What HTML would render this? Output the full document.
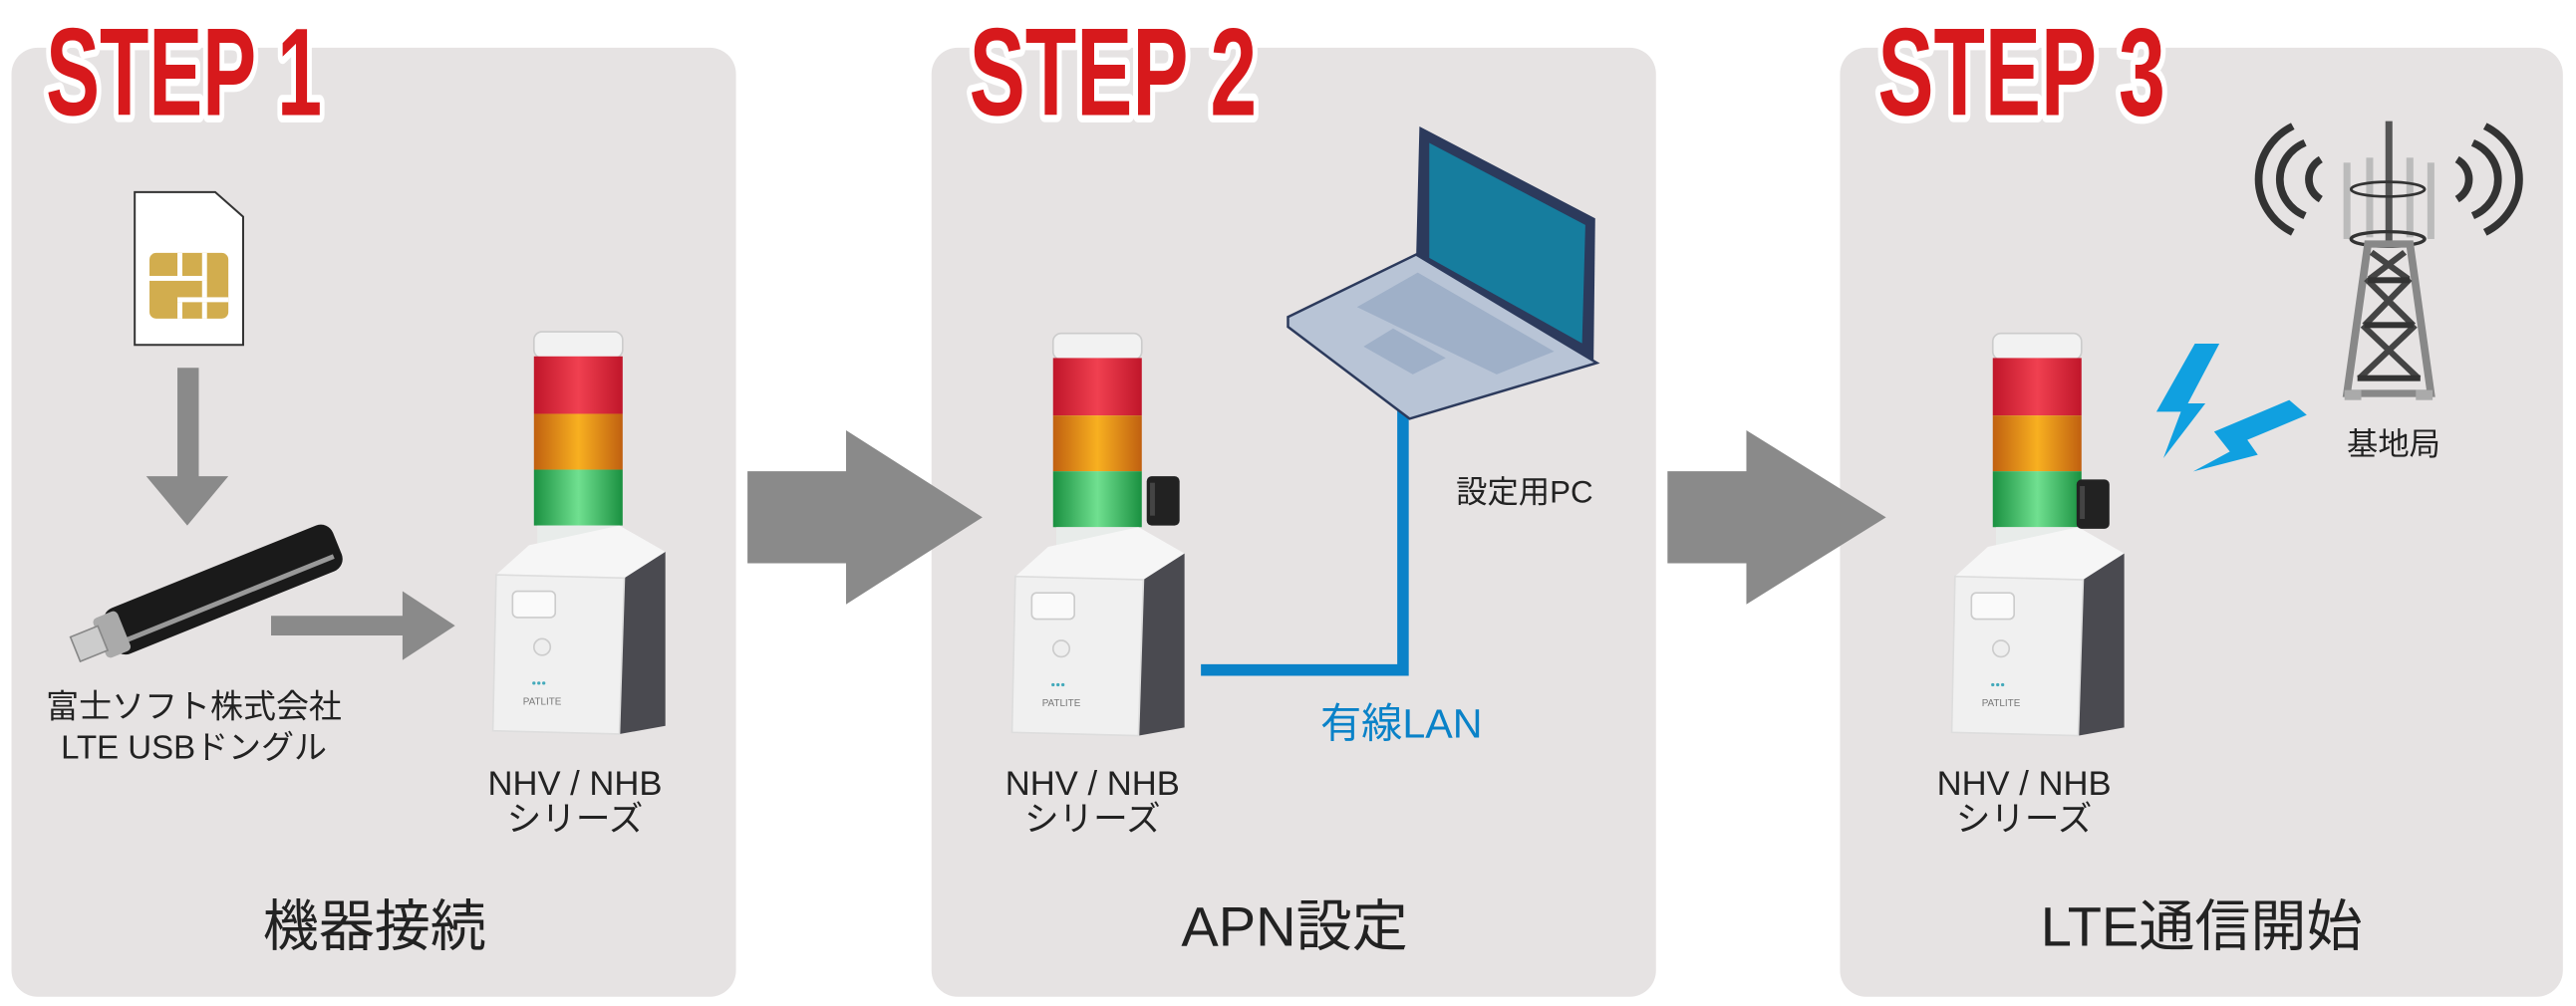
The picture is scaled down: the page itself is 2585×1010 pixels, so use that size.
<!DOCTYPE html>
<html><head><meta charset="utf-8"><style>
html,body{margin:0;padding:0;background:#fff;}
svg{display:block}
text{font-family:"Liberation Sans","Noto Sans CJK JP",sans-serif;}
.st{font-family:"Liberation Sans Narrow","Liberation Sans",sans-serif;font-weight:bold;fill:#d7191c;stroke:#fff;stroke-width:9;paint-order:stroke;stroke-linejoin:round}
</style></head><body>
<svg width="2585" height="1010" viewBox="0 0 1568 612.6" preserveAspectRatio="none" xmlns="http://www.w3.org/2000/svg">
<defs>
<linearGradient id="gr" x1="0" x2="1"><stop offset="0" stop-color="#c0162a"/><stop offset=".5" stop-color="#f04050"/><stop offset="1" stop-color="#c0162a"/></linearGradient>
<linearGradient id="go" x1="0" x2="1"><stop offset="0" stop-color="#c06010"/><stop offset=".5" stop-color="#f8b020"/><stop offset="1" stop-color="#c06010"/></linearGradient>
<linearGradient id="gg" x1="0" x2="1"><stop offset="0" stop-color="#1a9040"/><stop offset=".5" stop-color="#70e090"/><stop offset="1" stop-color="#1a9040"/></linearGradient>
<g id="tower">
  <rect x="-27" y="0" width="54" height="16" rx="5" fill="#f2f2f2" stroke="#ccc"/>
  <rect x="-27" y="15" width="54" height="35" fill="url(#gr)"/>
  <rect x="-27" y="50" width="54" height="34" fill="url(#go)"/>
  <rect x="-27" y="84" width="54" height="34" fill="url(#gg)"/>
  <rect x="-25" y="118" width="50" height="12" fill="#e8ecea"/>
  <polygon points="25,128 53,134 53,240 25,245" fill="#4a4a50"/>
  <path d="M-30,130 L25,118 L53,134 L28,150 L-50,148 Z" fill="#f6f6f6"/>
  <path d="M-50,148 L28,150 L25,245 L-52,243 Z" fill="#f0f0f0" stroke="#ddd"/>
  <rect x="-40" y="158" width="26" height="16" rx="3" fill="#fafafa" stroke="#ccc"/>
  <circle cx="-22" cy="192" r="5" fill="#eee" stroke="#ccc"/>
  <text x="-22" y="227" font-size="6" font-family="Liberation Serif" fill="#777" text-anchor="middle">PATLITE</text>
  <circle cx="-27" cy="214" r="1" fill="#4ab"/><circle cx="-24" cy="214" r="1" fill="#4ab"/><circle cx="-21" cy="214" r="1" fill="#4ab"/>
</g>
<g id="dg"><rect x="0" y="0" width="20" height="30" rx="3" fill="#222"/><rect x="2" y="4" width="3" height="20" fill="#444"/></g>
</defs>
<rect width="1568" height="612.6" fill="#fff"/>
<rect x="7" y="29" width="441" height="578" rx="16" fill="#e6e3e3"/>
<rect x="567" y="29" width="441" height="578" rx="16" fill="#e6e3e3"/>
<rect x="1120" y="29" width="440" height="578" rx="16" fill="#e6e3e3"/>
<text class="st" x="28" y="70" font-size="76" textLength="168" lengthAdjust="spacingAndGlyphs">STEP 1</text>
<text class="st" x="590" y="70" font-size="76" textLength="175" lengthAdjust="spacingAndGlyphs">STEP 2</text>
<text class="st" x="1143" y="70" font-size="76" textLength="175" lengthAdjust="spacingAndGlyphs">STEP 3</text>
<polygon points="455,287 515,287 515,262 598,315 515,368 515,343 455,343" fill="#8a8a8a"/>
<polygon points="1015,287 1063,287 1063,262 1148,315 1063,368 1063,343 1015,343" fill="#8a8a8a"/>
<path d="M82,117 L131,117 L148,132 L148,210 L82,210 Z" fill="#fff" stroke="#333" stroke-width="1.2"/>
<rect x="91" y="154" width="48" height="40" rx="4" fill="#d2ad4e"/>
<g fill="#fff"><rect x="108" y="154" width="3" height="14"/><rect x="123" y="154" width="3" height="14"/><rect x="91" y="168" width="35" height="3"/><rect x="123" y="171" width="3" height="10"/><rect x="108" y="181" width="31" height="3"/><rect x="108" y="184" width="3" height="10"/><rect x="123" y="184" width="3" height="10"/></g>
<polygon points="108,224 121,224 121,290 139,290 114,320 89,290 108,290" fill="#8a8a8a"/>
<g transform="translate(120,360) rotate(-22)">
  <rect x="-60" y="-10" width="150" height="30" rx="8" fill="#1a1a1a"/>
  <rect x="-55" y="10" width="140" height="3" fill="#999"/>
  <rect x="-66" y="-8" width="16" height="26" rx="3" fill="#aaa"/>
  <rect x="-82" y="-3" width="18" height="16" fill="#ccc" stroke="#888"/>
</g>
<polygon points="165,375 245,375 245,360 277,381 245,402 245,387 165,387" fill="#8a8a8a"/>
<text x="118" y="437" font-size="20" fill="#222" text-anchor="middle">富士ソフト株式会社</text>
<text x="118" y="462" font-size="20" fill="#222" text-anchor="middle">LTE USBドングル</text>
<use href="#tower" transform="translate(352,202)"/>
<use href="#tower" transform="translate(668,203)"/>
<use href="#tower" transform="translate(1240,203)"/>
<use href="#dg" transform="translate(698,290)"/>
<use href="#dg" transform="translate(1264,292)"/>
<text x="350" y="484" font-size="21" fill="#222" text-anchor="middle">NHV / NHB</text>
<text x="350" y="506" font-size="21" fill="#222" text-anchor="middle">シリーズ</text>
<text x="665" y="484" font-size="21" fill="#222" text-anchor="middle">NHV / NHB</text>
<text x="665" y="506" font-size="21" fill="#222" text-anchor="middle">シリーズ</text>
<text x="1232" y="484" font-size="21" fill="#222" text-anchor="middle">NHV / NHB</text>
<text x="1232" y="506" font-size="21" fill="#222" text-anchor="middle">シリーズ</text>
<text x="228" y="576" font-size="34" fill="#222" text-anchor="middle">機器接続</text>
<text x="788" y="576" font-size="34" fill="#222" text-anchor="middle">APN設定</text>
<text x="1340" y="576" font-size="34" fill="#222" text-anchor="middle">LTE通信開始</text>
<polyline points="731,408 854,408 854,245" fill="none" stroke="#0a82c8" stroke-width="7"/>
<text x="853" y="449" font-size="25" fill="#0a82c8" text-anchor="middle">有線LAN</text>
<g transform="translate(0,9)">
<polygon points="864,68 971,124 970,212 862,148" fill="#2c3a5c"/>
<polygon points="870,78 965,128 963,200 870,148" fill="#167d9e"/>
<polygon points="784,184 862,146 972,212 858,246 784,190" fill="#b8c4d6" stroke="#2c3a5c" stroke-width="1.5"/>
<polygon points="826,178 863,157 946,205 911,219" fill="#9fb0c8"/>
<polygon points="830,202 848,191 880,209 860,219" fill="#9fb0c8"/>
</g>
<text x="928" y="306" font-size="19" fill="#222" text-anchor="middle">設定用PC</text>
<g transform="translate(1182.8,48.5) scale(0.2128,0.2022)">
  <path d="M1000,140 A180,180 0 0 0 1000,460" fill="none" stroke="#333" stroke-width="22"/>
  <path d="M1035,190 A120,120 0 0 0 1035,410" fill="none" stroke="#333" stroke-width="22"/>
  <path d="M1080,240 A70,70 0 0 0 1080,360" fill="none" stroke="#333" stroke-width="22"/>
  <path d="M1550,140 A180,180 0 0 1 1550,460" fill="none" stroke="#333" stroke-width="22"/>
  <path d="M1515,190 A120,120 0 0 1 1515,410" fill="none" stroke="#333" stroke-width="22"/>
  <path d="M1470,240 A70,70 0 0 1 1470,360" fill="none" stroke="#333" stroke-width="22"/>
  <rect x="1265" y="125" width="20" height="360" fill="#555"/>
  <g fill="#bbb"><rect x="1145" y="250" width="20" height="230"/><rect x="1210" y="235" width="20" height="240"/><rect x="1325" y="235" width="20" height="240"/><rect x="1385" y="250" width="20" height="230"/></g>
  <ellipse cx="1272" cy="330" rx="105" ry="22" fill="none" stroke="#333" stroke-width="8"/>
  <ellipse cx="1272" cy="480" rx="105" ry="22" fill="none" stroke="#333" stroke-width="10"/>
  <polygon points="1215,495 1335,495 1395,945 1155,945" fill="none" stroke="#888" stroke-width="22"/>
  <path d="M1225,520 L1330,600 M1320,520 L1220,600 M1210,600 L1345,740 M1335,600 L1205,740 M1200,740 L1360,900 M1350,740 L1190,900" stroke="#444" stroke-width="18"/>
  <g fill="#333"><rect x="1215" y="595" width="120" height="18"/><rect x="1205" y="730" width="140" height="18"/><rect x="1185" y="890" width="180" height="18"/></g>
  <rect x="1148" y="935" width="48" height="30" fill="#aaa"/><rect x="1352" y="935" width="48" height="30" fill="#aaa"/>
  <path d="M720,795 L790,795 L700,975 L750,975 L630,1140 L680,1000 L610,1000 Z" fill="#10a0e0"/>
  <path d="M990,965 L1040,1010 L870,1085 L900,1130 L715,1180 L820,1120 L775,1060 Z" fill="#10a0e0"/>
</g>
<text x="1457" y="277" font-size="19" fill="#222" text-anchor="middle">基地局</text>
</svg>
</body></html>
